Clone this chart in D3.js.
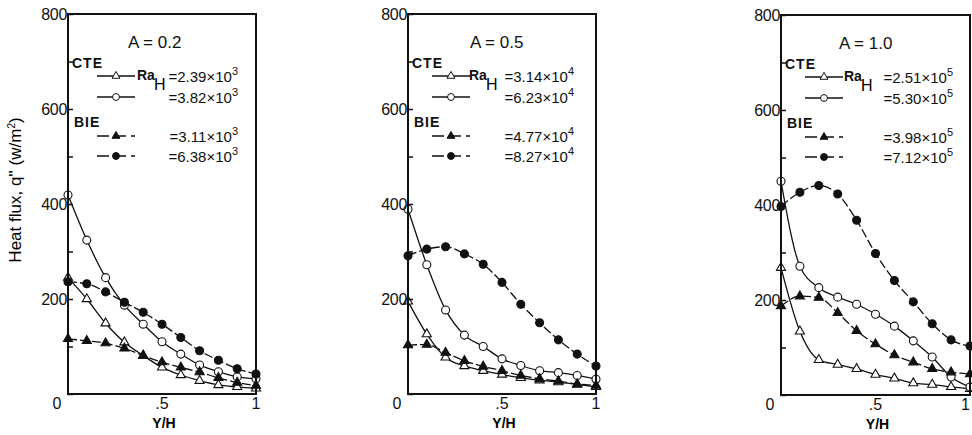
<!DOCTYPE html>
<head>
<meta charset="utf-8">
<style>
body { margin: 0; background: #fff; font-family: "Liberation Sans", Arial, sans-serif; }
.frame { fill: none; stroke: #111; stroke-width: 2; }
.tick line { stroke: #111; stroke-width: 1.5; }
.ylab { font-size: 16px; fill: #111; }
.curve { fill: none; stroke: #111; stroke-width: 1.3; }
.leg { font-size: 15px; fill: #111; }
.grp { font-size: 14px; font-weight: bold; fill: #111; letter-spacing: 1px; }
</style>
</head>
<body>
<script src="https://cdn.jsdelivr.net/npm/d3@7"></script>
<script>

// Y/H stations (same for every series)
var yh = [0, 0.1, 0.2, 0.3, 0.4, 0.5, 0.6, 0.7, 0.8, 0.9, 1.0];

// A = 0.2
var a02_cteTri  = [245, 200, 149, 109, 81, 56, 40, 28, 19, 15, 12];
var a02_cteCirc = [419, 324, 245, 187, 147, 110, 84, 61, 47, 36, 32];
var a02_bieTri  = [116, 112, 107, 96, 81, 67, 56, 46, 34, 24, 18];
var a02_bieCirc = [236, 232, 215, 193, 172, 147, 119, 91, 71, 53, 42];

// A = 0.5
var a05_cteTri  = [195, 126, 77, 59, 49, 41, 34, 29, 25, 20, 15];
var a05_cteCirc = [389, 272, 177, 124, 100, 74, 60, 49, 45, 39, 31];
var a05_bieTri  = [103, 104, 87, 70, 58, 49, 39, 32, 27, 21, 18];
var a05_bieCirc = [291, 305, 310, 295, 273, 235, 189, 150, 114, 84, 59];

// A = 1.0
var a10_cteTri  = [268, 134, 74, 64, 55, 43, 35, 25, 22, 17, 13];
var a10_cteCirc = [450, 271, 226, 206, 191, 170, 145, 114, 80, 38, 17];
var a10_bieTri  = [187, 208, 205, 173, 135, 107, 84, 69, 55, 48, 44];
var a10_bieCirc = [397, 427, 441, 423, 368, 298, 241, 196, 150, 116, 103];

// legend Ra_H values: [mantissa, exponent]
var a02_ra = [["2.39", "3"], ["3.82", "3"], ["3.11", "3"], ["6.38", "3"]];
var a05_ra = [["3.14", "4"], ["6.23", "4"], ["4.77", "4"], ["8.27", "4"]];
var a10_ra = [["2.51", "5"], ["5.30", "5"], ["3.98", "5"], ["7.12", "5"]];

var yTicks = [0, 100, 200, 300, 400, 500, 600, 700, 800];
var yLabels = [200, 400, 600, 800];

var panels = [
  { title: "A = 0.2", x0: 68, x1: 256, top: 14, bot: 394, ra: a02_ra,
    series: [a02_cteTri, a02_cteCirc, a02_bieTri, a02_bieCirc],
    leg: {title: 60, line: 29, ra: 69, h: 86, end: 170} },
  { title: "A = 0.5", x0: 408, x1: 596, top: 14, bot: 394, ra: a05_ra,
    series: [a05_cteTri, a05_cteCirc, a05_bieTri, a05_bieCirc],
    leg: {title: 62, line: 24, ra: 61, h: 78, end: 166} },
  { title: "A = 1.0", x0: 781, x1: 970, top: 15, bot: 395, ra: a10_ra,
    series: [a10_cteTri, a10_cteCirc, a10_bieTri, a10_bieCirc],
    leg: {title: 58, line: 24, ra: 63, h: 80, end: 172} }
];

// marker + line style per series: CTE open, BIE filled
var styles = [
  { sym: d3.symbolTriangle, size: 36, fill: "#fff", dash: null },
  { sym: d3.symbolCircle, size: 50, fill: "#fff", dash: null },
  { sym: d3.symbolTriangle, size: 36, fill: "#111", dash: "9,3" },
  { sym: d3.symbolCircle, size: 50, fill: "#111", dash: "9,3" }
];

var svg = d3.select("body").append("svg")
    .attr("width", 972)
    .attr("height", 435);

panels.forEach(function(p, pi) {
  var x = d3.scaleLinear().domain([0, 1]).range([p.x0, p.x1]);
  var y = d3.scaleLinear().domain([0, 800]).range([p.bot, p.top]);
  var g = svg.append("g");

  // curves first, markers on top
  var line = d3.line()
      .x(function(d, i) { return x(yh[i]); })
      .y(function(d) { return y(d); })
      .curve(d3.curveMonotoneX);

  p.series.forEach(function(s, si) {
    g.append("path")
        .attr("class", "curve")
        .attr("d", line(s))
        .style("stroke-dasharray", styles[si].dash);
  });
  p.series.forEach(function(s, si) {
    g.selectAll(null).data(s).enter().append("path")
        .attr("d", d3.symbol().type(styles[si].sym).size(styles[si].size))
        .attr("transform", function(d, i) { return "translate(" + x(yh[i]) + "," + y(d) + ")"; })
        .style("fill", styles[si].fill)
        .style("stroke", "#111")
        .style("stroke-width", 1.1);
  });

  // frame
  g.append("rect")
      .attr("class", "frame")
      .attr("x", p.x0).attr("y", p.top)
      .attr("width", p.x1 - p.x0).attr("height", p.bot - p.top);

  // y ticks pointing inwards
  g.append("g")
      .attr("transform", "translate(" + p.x0 + ",0)")
      .call(d3.axisRight(y).tickValues(yTicks).tickSize(5).tickFormat(""))
      .call(function(a) { a.select(".domain").remove(); });

  g.selectAll(null).data(yLabels).enter().append("text")
      .attr("class", "ylab")
      .attr("x", p.x0 - 1)
      .attr("y", function(d) { return y(d); })
      .attr("dy", "0.35em")
      .attr("text-anchor", "end")
      .style("letter-spacing", "-0.3px")
      .text(function(d) { return d; });

  // origin and x labels
  g.append("text").attr("class", "ylab")
      .attr("x", p.x0 - 11).attr("y", p.bot + 15)
      .attr("text-anchor", "middle").text("0");
  g.selectAll(null).data([[0.5, ".5"], [1, "1"]]).enter().append("text")
      .attr("class", "ylab")
      .attr("x", function(d) { return x(d[0]); })
      .attr("y", p.bot + 15)
      .attr("text-anchor", function(d) { return (pi === 2 && d[0] === 1) ? "end" : "middle"; })
      .text(function(d) { return d[1]; });
  g.append("text")
      .attr("x", x(0.5) + 2).attr("y", p.bot + 34)
      .attr("text-anchor", "middle")
      .style("font-size", "14px").style("font-weight", "bold")
      .text("Y/H");

  // legend
  g.append("text").attr("class", "leg")
      .attr("x", p.x0 + p.leg.title).attr("y", p.top + 34)
      .style("font-size", "17px")
      .text(p.title);

  g.append("text").attr("class", "grp")
      .attr("x", p.x0 + 4).attr("y", p.top + 54).text("CTE");
  g.append("text").attr("class", "grp")
      .attr("x", p.x0 + 6).attr("y", p.top + 113).text("BIE");

  var rowY = [p.top + 62, p.top + 83, p.top + 122, p.top + 142];
  rowY.forEach(function(ry, ri) {
    var lx0 = p.x0 + p.leg.line, lx1 = lx0 + 38;
    g.append("line")
        .attr("x1", lx0).attr("x2", lx1)
        .attr("y1", ry).attr("y2", ry)
        .style("stroke", "#111").style("stroke-width", 1.3)
        .style("stroke-dasharray", ri > 1 ? "12,5" : null);
    g.append("path")
        .attr("d", d3.symbol().type(styles[ri].sym).size(styles[ri].size * 0.75))
        .attr("transform", "translate(" + ((lx0 + lx1) / 2) + "," + ry + ")")
        .style("fill", styles[ri].fill)
        .style("stroke", "#111").style("stroke-width", 1);

    if (ri === 0) {
      g.append("text").attr("class", "grp")
          .attr("x", p.x0 + p.leg.ra).attr("y", ry + 4)
          .style("letter-spacing", "0px").text("Ra");
      g.append("text")
          .attr("x", p.x0 + p.leg.h).attr("y", ry + 14)
          .style("font-size", "16px")
          .text("H");
    }
    var t = g.append("text").attr("class", "leg")
        .attr("x", p.x0 + p.leg.end).attr("y", ry + 6)
        .attr("text-anchor", "end");
    t.append("tspan").text("=" + p.ra[ri][0] + "×10");
    t.append("tspan").attr("dy", -7).style("font-size", "11px").text(p.ra[ri][1]);
  });
});

// y-axis title
svg.append("text")
    .attr("transform", "translate(21,190) rotate(-90)")
    .attr("text-anchor", "middle")
    .style("font-size", "17px")
    .html("Heat flux,  q'' (w/m<tspan dy='-6' font-size='10px'>2</tspan><tspan dy='6'>)</tspan>");

</script>
</body>
